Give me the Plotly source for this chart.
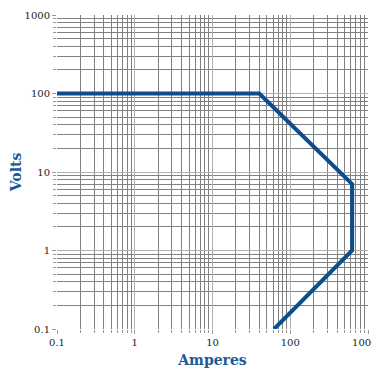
import plotly.graph_objects as go

amperes = [0.1, 40, 625, 625, 62]
volts = [100, 100, 7, 1, 0.1]
major_vals = [0.1, 1, 10, 100, 1000]
major_text = ["0.1", "1", "10", "100", "1000"]
x_major_text = ["0.1", "1", "10", "100", "1000\u00a0\u00a0"]
minor_vals = [m * d for d in [0.1, 1, 10, 100] for m in range(2, 10)]

fig = go.Figure()
fig.add_trace(go.Scatter(x=amperes, y=volts, mode="lines",
                         line=dict(color="#0e4d8c", width=4), showlegend=False))

axis_common = dict(
    type="log", tickmode="array", tickvals=major_vals,
    showgrid=True, gridcolor="#b0b0b0", gridwidth=1,
    ticks="outside", ticklen=4, tickcolor="#999", zeroline=False,
    showline=False, automargin=False, ticklabeloverflow="allow",
    tickfont=dict(family="DejaVu Serif", size=10, color="#222"),
    minor=dict(tickmode="array", tickvals=minor_vals, showgrid=True,
               gridcolor="#808080", gridwidth=1, ticks="outside", ticklen=3,
               tickcolor="#999"),
)

fig.update_xaxes(**axis_common, ticktext=x_major_text, range=[-1, 3],
                 title=dict(text="<b>Amperes</b>", standoff=8,
                            font=dict(family="DejaVu Serif", size=14, color="#1b5a99")))
fig.update_yaxes(**axis_common, ticktext=major_text, range=[-1, 3],
                 title=dict(text="<b>Volts</b>", standoff=6,
                            font=dict(family="DejaVu Serif", size=14, color="#1b5a99")))

# page body has an 8px default margin, so the figure is offset accordingly
fig.update_layout(width=372, height=369, margin=dict(l=49, r=12, t=7, b=48),
                  plot_bgcolor="white", paper_bgcolor="white")
fig.write_html("out.html")
